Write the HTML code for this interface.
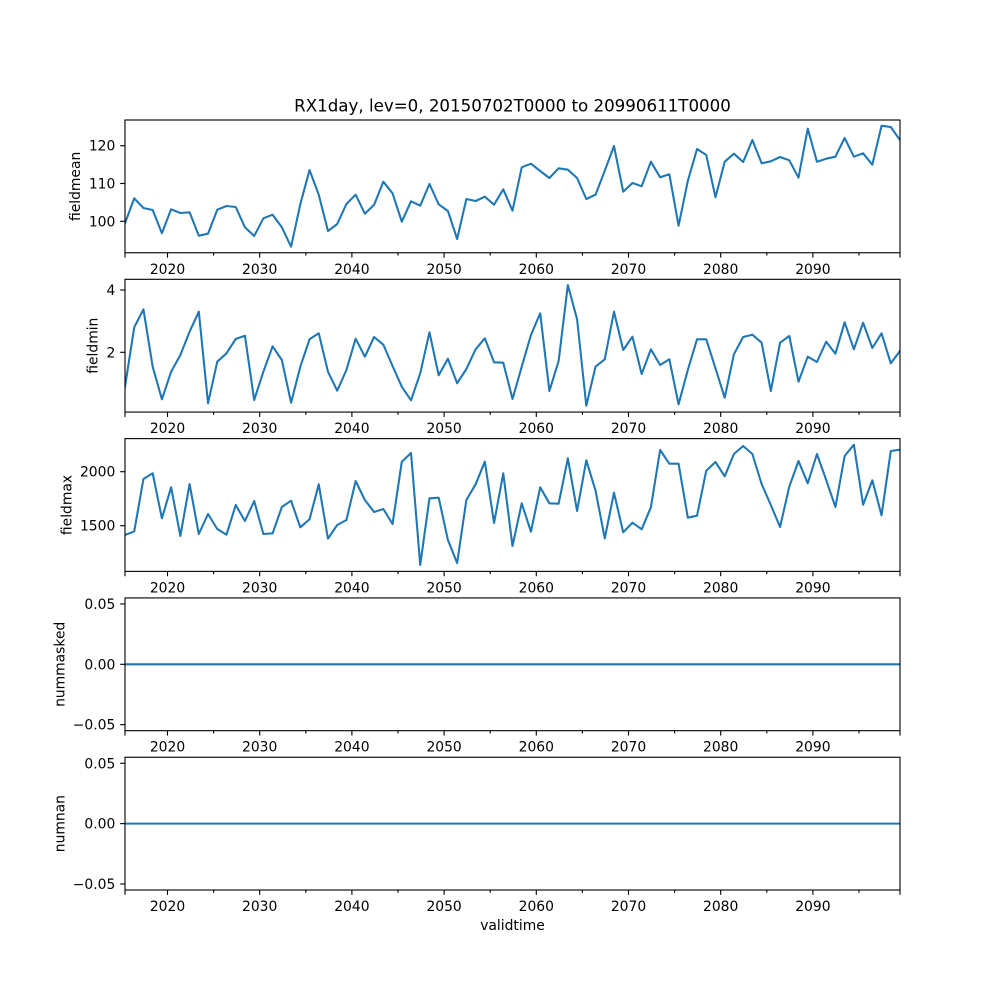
<!DOCTYPE html>
<html>
<head>
<meta charset="utf-8">
<style>
html,body{margin:0;padding:0;background:#fff;}
svg{display:block;}
text{font-family:"DejaVu Sans","Liberation Sans",sans-serif;fill:#000;}
</style>
</head>
<body>
<svg width="1000" height="1000" viewBox="0 0 1000 1000" xmlns="http://www.w3.org/2000/svg">
<rect x="0" y="0" width="1000" height="1000" fill="#fff"/>
<defs>
<clipPath id="c1"><rect x="125" y="120" width="775" height="132.76"/></clipPath>
<clipPath id="c2"><rect x="125" y="279.31" width="775" height="132.76"/></clipPath>
<clipPath id="c3"><rect x="125" y="438.62" width="775" height="132.76"/></clipPath>
</defs>

<!-- Title -->
<text x="512.5" y="111.7" font-size="16.67" text-anchor="middle">RX1day, lev=0, 20150702T0000 to 20990611T0000</text>

<!-- Panel 1 -->
<polyline clip-path="url(#c1)" fill="none" stroke="#1f77b4" stroke-width="2.08" stroke-linejoin="round" stroke-linecap="square" points="125,223.3 134.23,198.3 143.45,208 152.68,210 161.9,233.3 171.13,209.3 180.36,213 189.58,212.3 198.81,235.7 208.04,233.7 217.26,209.7 226.49,206 235.71,207 244.94,227.3 254.17,236 263.39,218.3 272.62,214.7 281.85,227.3 291.07,246.7 300.3,204.3 309.52,170 318.75,194.7 327.98,231 337.2,224 346.43,204 355.65,194.7 364.88,213.7 374.11,204.7 383.33,181.7 392.56,193.3 401.79,221.7 411.01,201.3 420.24,205.7 429.46,184 438.69,204.3 447.92,211 457.14,239 466.37,199 475.6,201 484.82,196.7 494.05,204.7 503.27,189.3 512.5,210.7 521.73,167.3 530.95,163.7 540.18,171 549.4,178 558.63,168.3 567.86,169.7 577.08,178 586.31,199 595.54,194.7 604.76,170.7 613.99,146 623.21,191.7 632.44,183 641.67,186.3 650.89,161.7 660.12,177.3 669.35,174.3 678.57,225.7 687.8,181 697.02,149 706.25,155 715.48,197.3 724.7,161.7 733.93,153.7 743.15,162 752.38,140 761.61,163.3 770.83,161.3 780.06,157 789.29,160.3 798.51,177.7 807.74,128.7 816.96,161.7 826.19,158.7 835.42,156.7 844.64,138 853.87,156.7 863.1,153.3 872.32,164.7 881.55,125.7 890.77,127 900,140"/>
<rect x="125" y="120" width="775" height="132.76" fill="none" stroke="#000" stroke-width="1.11"/>
<g stroke="#000" stroke-width="1.11">
<line x1="120.14" y1="145.7" x2="125" y2="145.7"/>
<line x1="120.14" y1="183.5" x2="125" y2="183.5"/>
<line x1="120.14" y1="221.3" x2="125" y2="221.3"/>
</g>
<g font-size="13.89" text-anchor="end">
<text x="115.3" y="150.7">120</text>
<text x="115.3" y="188.5">110</text>
<text x="115.3" y="226.3">100</text>
</g>
<text transform="translate(80,186.4) rotate(-90)" font-size="13.89" text-anchor="middle">fieldmean</text>

<!-- Panel 2 -->
<polyline clip-path="url(#c2)" fill="none" stroke="#1f77b4" stroke-width="2.08" stroke-linejoin="round" stroke-linecap="square" points="125,386.7 134.23,327.3 143.45,309.3 152.68,366.7 161.9,399.3 171.13,371.7 180.36,355 189.58,331.7 198.81,311.7 208.04,403.3 217.26,361.7 226.49,353.3 235.71,339 244.94,335.7 254.17,400 263.39,371.7 272.62,346.3 281.85,360 291.07,402.7 300.3,366.7 309.52,339.3 318.75,333.3 327.98,371.7 337.2,390.7 346.43,370 355.65,338.7 364.88,356.7 374.11,337 383.33,344.7 392.56,366 401.79,386.7 411.01,400.3 420.24,373.3 429.46,332.3 438.69,375.3 447.92,358.7 457.14,383.3 466.37,369 475.6,349.3 484.82,338.3 494.05,362.3 503.27,362.7 512.5,399 521.73,366.7 530.95,335 540.18,313.3 549.4,391 558.63,361 567.86,285 577.08,319.3 586.31,405.7 595.54,366.7 604.76,359.3 613.99,311.7 623.21,350 632.44,336.7 641.67,374 650.89,349.3 660.12,365 669.35,359.3 678.57,404.3 687.8,370 697.02,339.3 706.25,339.3 715.48,368.3 724.7,397.7 733.93,354.3 743.15,337 752.38,334.7 761.61,342.7 770.83,391 780.06,342.7 789.29,336 798.51,381.7 807.74,356.7 816.96,362 826.19,341.7 835.42,353.7 844.64,322.3 853.87,349.3 863.1,322.7 872.32,348 881.55,333.3 890.77,363.3 900,351"/>
<rect x="125" y="279.31" width="775" height="132.76" fill="none" stroke="#000" stroke-width="1.11"/>
<g stroke="#000" stroke-width="1.11">
<line x1="120.14" y1="290" x2="125" y2="290"/>
<line x1="120.14" y1="352.3" x2="125" y2="352.3"/>
</g>
<g font-size="13.89" text-anchor="end">
<text x="115.3" y="295">4</text>
<text x="115.3" y="357.3">2</text>
</g>
<text transform="translate(97.6,345.7) rotate(-90)" font-size="13.89" text-anchor="middle">fieldmin</text>

<!-- Panel 3 -->
<polyline clip-path="url(#c3)" fill="none" stroke="#1f77b4" stroke-width="2.08" stroke-linejoin="round" stroke-linecap="square" points="125,535 134.23,531.3 143.45,479 152.68,473.3 161.9,518.3 171.13,487.3 180.36,536 189.58,484 198.81,534 208.04,514 217.26,529 226.49,534.7 235.71,505 244.94,521 254.17,501 263.39,534 272.62,533.3 281.85,507 291.07,500.7 300.3,527.3 309.52,519.3 318.75,484.3 327.98,538.7 337.2,525 346.43,520 355.65,481 364.88,500 374.11,512 383.33,509 392.56,524 401.79,461.7 411.01,453 420.24,565 429.46,498.3 438.69,497.7 447.92,540 457.14,563 466.37,500 475.6,484.3 484.82,461.7 494.05,523 503.27,473.3 512.5,546 521.73,503.3 530.95,531.7 540.18,487.3 549.4,503.3 558.63,503.7 567.86,458.3 577.08,511 586.31,460.3 595.54,490.7 604.76,538.3 613.99,492.7 623.21,532.3 632.44,522.7 641.67,529.3 650.89,507.3 660.12,450 669.35,463.7 678.57,463.7 687.8,517.7 697.02,515.7 706.25,470.7 715.48,462 724.7,476.3 733.93,454 743.15,446 752.38,454 761.61,484 770.83,505 780.06,527 789.29,486.7 798.51,461 807.74,483.3 816.96,454 826.19,480 835.42,507 844.64,456 853.87,444.7 863.1,504.7 872.32,480.3 881.55,515.3 890.77,451 900,449.7"/>
<rect x="125" y="438.62" width="775" height="132.76" fill="none" stroke="#000" stroke-width="1.11"/>
<g stroke="#000" stroke-width="1.11">
<line x1="120.14" y1="471.7" x2="125" y2="471.7"/>
<line x1="120.14" y1="525.7" x2="125" y2="525.7"/>
</g>
<g font-size="13.89" text-anchor="end">
<text x="115.3" y="476.7">2000</text>
<text x="115.3" y="530.7">1500</text>
</g>
<text transform="translate(71.3,505) rotate(-90)" font-size="13.89" text-anchor="middle">fieldmax</text>

<!-- Panel 4 -->
<line x1="125" y1="664.31" x2="900" y2="664.31" stroke="#1f77b4" stroke-width="2.08"/>
<rect x="125" y="597.93" width="775" height="132.76" fill="none" stroke="#000" stroke-width="1.11"/>
<g stroke="#000" stroke-width="1.11">
<line x1="120.14" y1="603.96" x2="125" y2="603.96"/>
<line x1="120.14" y1="664.31" x2="125" y2="664.31"/>
<line x1="120.14" y1="724.66" x2="125" y2="724.66"/>
</g>
<g font-size="13.89" text-anchor="end">
<text x="115.3" y="608.96">0.05</text>
<text x="115.3" y="669.31">0.00</text>
<text x="115.3" y="729.66">−0.05</text>
</g>
<text transform="translate(64.5,664.31) rotate(-90)" font-size="13.89" text-anchor="middle">nummasked</text>

<!-- Panel 5 -->
<line x1="125" y1="823.62" x2="900" y2="823.62" stroke="#1f77b4" stroke-width="2.08"/>
<rect x="125" y="757.24" width="775" height="132.76" fill="none" stroke="#000" stroke-width="1.11"/>
<g stroke="#000" stroke-width="1.11">
<line x1="120.14" y1="763.27" x2="125" y2="763.27"/>
<line x1="120.14" y1="823.62" x2="125" y2="823.62"/>
<line x1="120.14" y1="883.97" x2="125" y2="883.97"/>
</g>
<g font-size="13.89" text-anchor="end">
<text x="115.3" y="768.27">0.05</text>
<text x="115.3" y="828.62">0.00</text>
<text x="115.3" y="888.97">−0.05</text>
</g>
<text transform="translate(64.5,823.62) rotate(-90)" font-size="13.89" text-anchor="middle">numnan</text>

<!-- X ticks for all panels -->
<g id="xt1" stroke="#000" stroke-width="1.11">
<line x1="125" y1="252.76" x2="125" y2="257.62"/>
<line x1="900" y1="252.76" x2="900" y2="257.62"/>
<line x1="167.5" y1="252.76" x2="167.5" y2="257.62"/>
<line x1="259.7" y1="252.76" x2="259.7" y2="257.62"/>
<line x1="351.9" y1="252.76" x2="351.9" y2="257.62"/>
<line x1="444.1" y1="252.76" x2="444.1" y2="257.62"/>
<line x1="536.3" y1="252.76" x2="536.3" y2="257.62"/>
<line x1="628.5" y1="252.76" x2="628.5" y2="257.62"/>
<line x1="720.7" y1="252.76" x2="720.7" y2="257.62"/>
<line x1="812.9" y1="252.76" x2="812.9" y2="257.62"/>
<line x1="213.6" y1="252.76" x2="213.6" y2="255.54"/>
<line x1="305.8" y1="252.76" x2="305.8" y2="255.54"/>
<line x1="398.0" y1="252.76" x2="398.0" y2="255.54"/>
<line x1="490.2" y1="252.76" x2="490.2" y2="255.54"/>
<line x1="582.4" y1="252.76" x2="582.4" y2="255.54"/>
<line x1="674.6" y1="252.76" x2="674.6" y2="255.54"/>
<line x1="766.8" y1="252.76" x2="766.8" y2="255.54"/>
<line x1="859.0" y1="252.76" x2="859.0" y2="255.54"/>
</g>
<g id="xl1" font-size="13.89" text-anchor="middle">
<text x="167.5" y="273.8">2020</text>
<text x="259.7" y="273.8">2030</text>
<text x="351.9" y="273.8">2040</text>
<text x="444.1" y="273.8">2050</text>
<text x="536.3" y="273.8">2060</text>
<text x="628.5" y="273.8">2070</text>
<text x="720.7" y="273.8">2080</text>
<text x="812.9" y="273.8">2090</text>
</g>
<use href="#xt1" transform="translate(0,159.31)"/>
<use href="#xl1" transform="translate(0,159.31)"/>
<use href="#xt1" transform="translate(0,318.62)"/>
<use href="#xl1" transform="translate(0,318.62)"/>
<use href="#xt1" transform="translate(0,477.93)"/>
<use href="#xl1" transform="translate(0,477.93)"/>
<use href="#xt1" transform="translate(0,637.24)"/>
<use href="#xl1" transform="translate(0,637.24)"/>

<text x="512.5" y="930" font-size="13.89" text-anchor="middle">validtime</text>
</svg>
</body>
</html>
